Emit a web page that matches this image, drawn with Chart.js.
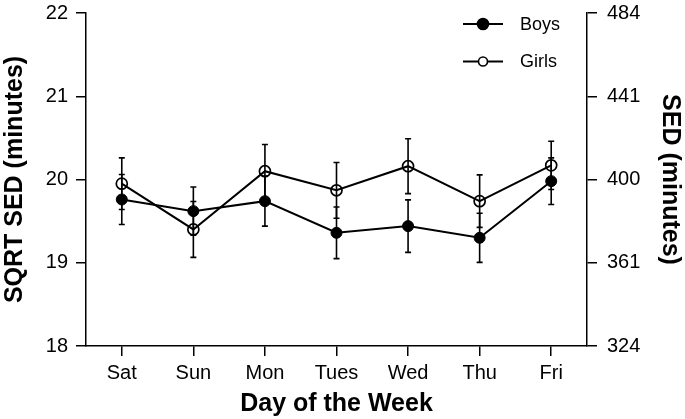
<!DOCTYPE html>
<html>
<head>
<meta charset="utf-8">
<script src="https://cdn.jsdelivr.net/npm/chart.js@4/dist/chart.umd.min.js"></script>
<style>
html,body{margin:0;padding:0;background:#fff;}
#wrap{width:685px;height:419px;}
</style>
</head>
<body>
<div id="wrap"><canvas id="c" width="685" height="419"></canvas></div>
<script>
const days = ['Sat','Sun','Mon','Tues','Wed','Thu','Fri'];
const boys = [19.76, 19.62, 19.74, 19.36, 19.44, 19.30, 19.98];
const boysErr = [0.30, 0.29, 0.30, 0.31, 0.315, 0.295, 0.28];
const girls = [19.95, 19.40, 20.10, 19.87, 20.16, 19.74, 20.17];
const girlsErr = [0.31, 0.335, 0.32, 0.335, 0.33, 0.315, 0.29];
const leftTicks = ['18','19','20','21','22'];
const rightTicks = ['324','361','400','441','484'];

Chart.defaults.font.family = "'Liberation Sans', Arial, Helvetica, sans-serif";
Chart.defaults.color = '#000';

const errorBars = {
  id: 'errorBars',
  afterDatasetsDraw(chart) {
    const ctx = chart.ctx;
    const y = chart.scales.y;
    const errs = [boysErr, girlsErr];
    ctx.save();
    ctx.strokeStyle = '#000';
    ctx.lineWidth = 1.6;
    chart.data.datasets.forEach((ds, di) => {
      const meta = chart.getDatasetMeta(di);
      meta.data.forEach((pt, i) => {
        const v = ds.data[i], e = errs[di][i];
        const x = pt.x;
        const yt = y.getPixelForValue(v + e);
        const yb = y.getPixelForValue(v - e);
        ctx.beginPath();
        ctx.moveTo(x, yt); ctx.lineTo(x, yb);
        ctx.moveTo(x - 3, yt); ctx.lineTo(x + 3, yt);
        ctx.moveTo(x - 3, yb); ctx.lineTo(x + 3, yb);
        ctx.stroke();
      });
    });
    ctx.restore();
  }
};

const innerLegend = {
  id: 'innerLegend',
  afterDraw(chart) {
    const ctx = chart.ctx;
    const a = chart.chartArea;
    ctx.save();
    ctx.font = "18px 'Liberation Sans', Arial, sans-serif";
    ctx.textBaseline = 'middle';
    ctx.fillStyle = '#000';
    chart.data.datasets.forEach((ds, i) => {
      const yy = a.top + 11 + i * 37.5;
      const x0 = a.right - 124, x1 = a.right - 84;
      ctx.strokeStyle = '#000';
      ctx.lineWidth = 2;
      ctx.beginPath(); ctx.moveTo(x0, yy); ctx.lineTo(x1, yy); ctx.stroke();
      ctx.beginPath();
      ctx.arc((x0 + x1) / 2, yy, i === 0 ? 5.5 : 4.5, 0, Math.PI * 2);
      ctx.fillStyle = i === 0 ? '#000' : '#fff';
      ctx.fill();
      ctx.lineWidth = 1.6;
      ctx.stroke();
      ctx.fillStyle = '#000';
      ctx.fillText(ds.label, a.right - 67, yy + 1);
    });
    ctx.restore();
  }
};

new Chart(document.getElementById('c'), {
  type: 'line',
  data: {
    labels: days,
    datasets: [
      {
        label: 'Boys', data: boys,
        borderColor: '#000', borderWidth: 2,
        pointBackgroundColor: '#000', pointBorderColor: '#000',
        pointRadius: 5.5, pointBorderWidth: 1, tension: 0
      },
      {
        label: 'Girls', data: girls,
        borderColor: '#000', borderWidth: 2,
        pointBackgroundColor: 'rgba(0,0,0,0)', pointBorderColor: '#000',
        pointRadius: 5.5, pointBorderWidth: 1.7, tension: 0
      }
    ]
  },
  options: {
    responsive: false,
    animation: false,
    layout: { padding: { top: 13, left: 0, right: 0, bottom: 0 } },
    plugins: { legend: { display: false }, tooltip: { enabled: false } },
    scales: {
      x: {
        type: 'category',
        offset: true,
        grid: { display: true, drawOnChartArea: false, drawTicks: true, tickLength: 10, color: '#000', lineWidth: 1.5, offset: false },
        border: { display: true, color: '#000', width: 1.5 },
        ticks: { font: { size: 20 }, padding: 5, color: '#000', maxRotation: 0 },
        title: { display: true, text: 'Day of the Week', font: { size: 25, weight: 'bold' }, padding: { top: 0, bottom: 0 }, color: '#000' },
        afterFit(s) { s.height = 73; s.paddingLeft = 0; s.paddingRight = 0; }
      },
      y: {
        position: 'left',
        min: 18, max: 22,
        grid: { display: true, drawOnChartArea: false, drawTicks: true, tickLength: 10, color: '#000', lineWidth: 1.5 },
        border: { display: true, color: '#000', width: 1.5 },
        ticks: { stepSize: 1, font: { size: 20 }, padding: 8, color: '#000', callback: (v, i) => leftTicks[i] },
        title: { display: true, text: 'SQRT SED (minutes)', font: { size: 25, weight: 'bold' }, padding: { top: 0, bottom: 0 }, color: '#000' },
        afterFit(s) { s.width = 86; s.paddingTop = 0; s.paddingBottom = 0; }
      },
      y2: {
        position: 'right',
        min: 18, max: 22,
        grid: { display: true, drawOnChartArea: false, drawTicks: true, tickLength: 10, color: '#000', lineWidth: 1.5 },
        border: { display: true, color: '#000', width: 1.5 },
        ticks: { stepSize: 1, font: { size: 20 }, padding: 10, color: '#000', callback: (v, i) => rightTicks[i] },
        title: { display: true, text: 'SED (minutes)', font: { size: 25, weight: 'bold' }, padding: { top: 0, bottom: 0 }, color: '#000' },
        afterFit(s) { s.width = 98; s.paddingTop = 0; s.paddingBottom = 0; }
      }
    }
  },
  plugins: [errorBars, innerLegend]
});
</script>
</body>
</html>
